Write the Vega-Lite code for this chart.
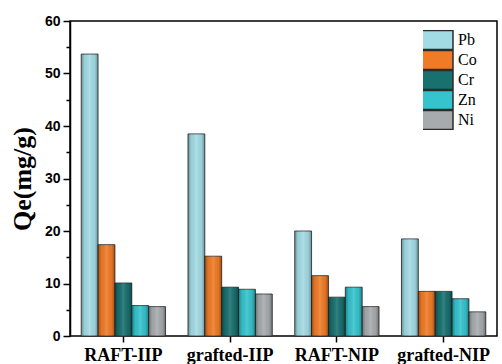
{
  "$schema": "https://vega.github.io/schema/vega-lite/v6.json",
  "width": 427,
  "height": 315,
  "autosize": {"type": "none"},
  "padding": {"left": 70, "top": 21, "right": 5, "bottom": 28},
  "background": "white",
  "config": {
    "view": {"stroke": "black", "strokeWidth": 1.5},
    "axis": {"domainColor": "black", "tickColor": "black", "labelColor": "black", "titleColor": "black", "grid": false}
  },
  "data": {
    "values": [
      {"sample": "RAFT-IIP", "metal": "Pb", "qe": 53.7},
      {"sample": "RAFT-IIP", "metal": "Co", "qe": 17.4},
      {"sample": "RAFT-IIP", "metal": "Cr", "qe": 10.1},
      {"sample": "RAFT-IIP", "metal": "Zn", "qe": 5.8},
      {"sample": "RAFT-IIP", "metal": "Ni", "qe": 5.6},
      {"sample": "grafted-IIP", "metal": "Pb", "qe": 38.5},
      {"sample": "grafted-IIP", "metal": "Co", "qe": 15.2},
      {"sample": "grafted-IIP", "metal": "Cr", "qe": 9.3},
      {"sample": "grafted-IIP", "metal": "Zn", "qe": 8.9},
      {"sample": "grafted-IIP", "metal": "Ni", "qe": 8.0},
      {"sample": "RAFT-NIP", "metal": "Pb", "qe": 20.0},
      {"sample": "RAFT-NIP", "metal": "Co", "qe": 11.5},
      {"sample": "RAFT-NIP", "metal": "Cr", "qe": 7.4},
      {"sample": "RAFT-NIP", "metal": "Zn", "qe": 9.3},
      {"sample": "RAFT-NIP", "metal": "Ni", "qe": 5.6},
      {"sample": "grafted-NIP", "metal": "Pb", "qe": 18.5},
      {"sample": "grafted-NIP", "metal": "Co", "qe": 8.5},
      {"sample": "grafted-NIP", "metal": "Cr", "qe": 8.5},
      {"sample": "grafted-NIP", "metal": "Zn", "qe": 7.1},
      {"sample": "grafted-NIP", "metal": "Ni", "qe": 4.6}
    ]
  },
  "encoding": {
    "x": {
      "field": "sample",
      "type": "nominal",
      "sort": ["RAFT-IIP", "grafted-IIP", "RAFT-NIP", "grafted-NIP"],
      "scale": {"paddingInner": 0.21, "paddingOuter": 0.105},
      "axis": {
        "title": null,
        "domain": false,
        "labelAngle": 0,
        "labelFont": "Liberation Serif",
        "labelFontWeight": "bold",
        "labelFontSize": 18,
        "labelPadding": 4,
        "tickSize": 6,
        "tickWidth": 1.5
      }
    },
    "xOffset": {
      "field": "metal",
      "type": "nominal",
      "sort": ["Pb", "Co", "Cr", "Zn", "Ni"],
      "scale": {"paddingInner": 0, "paddingOuter": 0}
    },
    "y": {
      "field": "qe",
      "type": "quantitative",
      "scale": {"domain": [0, 60], "nice": false},
      "axis": {
        "title": "Qe(mg/g)",
        "titleFont": "Liberation Serif",
        "titleFontSize": 26,
        "titleFontWeight": "bold",
        "titlePadding": 9,
        "values": [0, 5, 10, 15, 20, 25, 30, 35, 40, 45, 50, 55, 60],
        "labelExpr": "datum.value % 10 === 0 ? datum.label : ''",
        "labelFont": "Liberation Sans",
        "labelFontWeight": "bold",
        "labelFontSize": 14,
        "labelPadding": 3,
        "tickSize": {"condition": {"test": "datum.value % 10 === 0", "value": 7}, "value": 4},
        "tickWidth": 1.5,
        "domainWidth": 1.5
      }
    }
  },
  "layer": [
    {
      "mark": {"type": "bar", "stroke": "#2b2b2b", "strokeWidth": 0.8},
      "encoding": {
        "color": {
          "field": "metal",
          "type": "nominal",
          "sort": ["Pb", "Co", "Cr", "Zn", "Ni"],
          "scale": {
            "domain": ["Pb", "Co", "Cr", "Zn", "Ni"],
            "range": ["#a3dbe4", "#f07b26", "#18706f", "#35c3cd", "#a8abae"]
          },
          "legend": {
            "title": null,
            "orient": "none",
            "legendX": 353,
            "legendY": 9,
            "padding": 0,
            "symbolType": "M-2,-0.975H2V0.975H-2Z",
            "symbolSize": 380,
            "symbolOpacity": 1,
            "labelFont": "Liberation Serif",
            "labelFontSize": 16,
            "labelColor": "black",
            "labelOffset": 14,
            "clipHeight": 20,
            "rowPadding": 0,
            "encode": {
              "symbols": {
                "stroke": {"value": "#333333"},
                "strokeWidth": {"value": 0.8}
              }
            }
          }
        }
      }
    },
    {
      "mark": {
        "type": "bar",
        "strokeWidth": 0,
        "fill": {
          "gradient": "linear",
          "x1": 0, "y1": 0, "x2": 1, "y2": 0,
          "stops": [
            {"offset": 0, "color": "rgba(0,0,0,0.35)"},
            {"offset": 0.2, "color": "rgba(0,0,0,0.05)"},
            {"offset": 0.5, "color": "rgba(255,255,255,0.12)"},
            {"offset": 0.8, "color": "rgba(0,0,0,0.05)"},
            {"offset": 1, "color": "rgba(0,0,0,0.35)"}
          ]
        }
      }
    }
  ]
}
